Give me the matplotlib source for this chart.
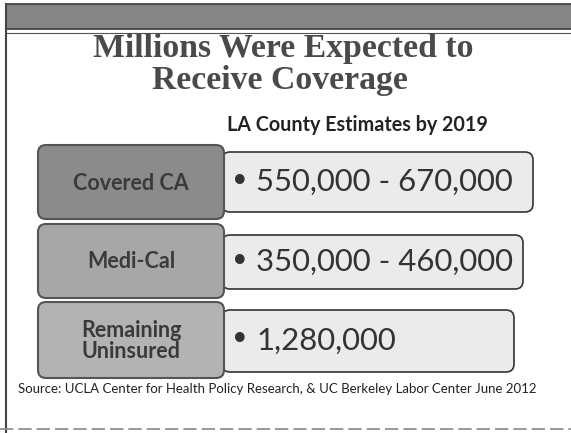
import matplotlib
matplotlib.use("Agg")
import matplotlib.pyplot as plt
from matplotlib.patches import FancyBboxPatch, Rectangle

title_lines = ["Millions Were Expected to", "Receive Coverage"]
subtitle = "LA County Estimates by 2019"
categories = ["Covered CA", "Medi-Cal", "Remaining\nUninsured"]
values = ["550,000 - 670,000", "350,000 - 460,000", "1,280,000"]
source = "Source: UCLA Center for Health Policy Research, & UC Berkeley Labor Center June 2012"

left_colors = ["#8b8b8b", "#a7a7a7", "#b3b3b3"]
right_color = "#ebebeb"

W, H = 571, 433
fig = plt.figure(figsize=(W / 100, H / 100), dpi=100)
ax = fig.add_axes([0, 0, 1, 1])
ax.set_xlim(0, W)
ax.set_ylim(H, 0)
ax.axis("off")

# top band and frame
ax.add_patch(Rectangle((6, 4), 570, 25, facecolor="#858585", edgecolor="#3a3a3a", lw=1.2))
ax.plot([6, 571], [33, 33], color="#555555", lw=0.8)
ax.plot([6, 6], [4, 433], color="#444444", lw=1.5)
ax.plot([0, 571], [429, 429], color="#888888", lw=1.2, ls=(0, (8, 3)))

# title
ax.text(283, 48, title_lines[0], ha="center", va="center", family="Liberation Serif",
        weight="bold", fontsize=24.3, color="#4a4a4a")
ax.text(280, 81, title_lines[1], ha="center", va="center", family="Liberation Serif",
        weight="bold", fontsize=24.3, color="#4a4a4a")
ax.text(357, 125, subtitle, ha="center", va="center", family="Lato", weight="bold",
        fontsize=14.2, color="#222222")

left_boxes = [(38, 145, 186, 74), (38, 224, 186, 74), (38, 302, 186, 76)]
right_boxes = [(222, 152, 311, 60), (222, 235, 301, 54), (222, 310, 292, 62)]

for i, cat in enumerate(categories):
    rx, ry, rw, rh = right_boxes[i]
    ax.add_patch(FancyBboxPatch((rx, ry), rw, rh, boxstyle="round,pad=0,rounding_size=8",
                                facecolor=right_color, edgecolor="#333333", lw=1.2))
    lx, ly, lw_, lh = left_boxes[i]
    ax.add_patch(FancyBboxPatch((lx, ly), lw_, lh, boxstyle="round,pad=0,rounding_size=8",
                                facecolor=left_colors[i], edgecolor="#555555", lw=1.5))
    ax.text(lx + lw_ / 2, ly + lh / 2 + 1, cat, ha="center", va="center", family="Lato",
            weight="bold", fontsize=15.5, color="#3a3a3a", linespacing=1.0)
    ax.text(240, ry + rh / 2, "•", ha="center", va="center", family="DejaVu Sans",
            fontsize=24, color="#333333")
    ax.text(256, ry + rh / 2, values[i], ha="left", va="center", family="Lato",
            fontsize=22.4, color="#333333")

ax.text(18, 389, source, ha="left", va="center", family="Lato", fontsize=9.5, color="#222222")

fig.savefig("out.png", dpi=100)
